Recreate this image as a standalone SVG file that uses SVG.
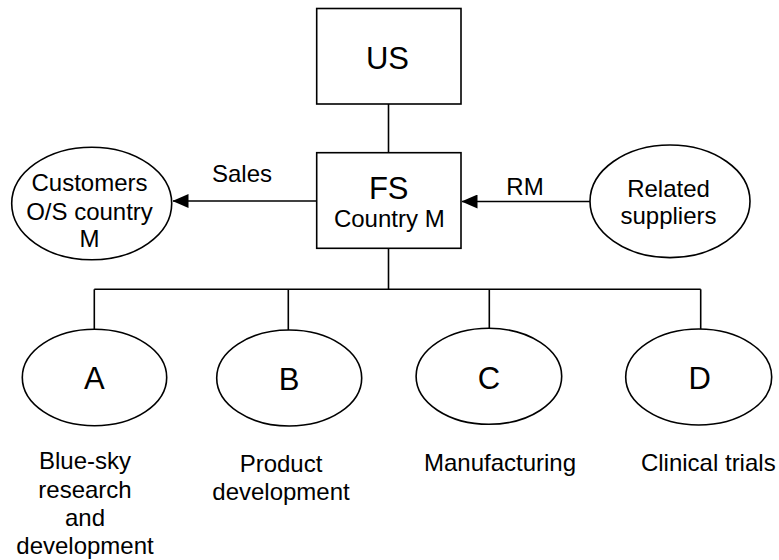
<svg xmlns="http://www.w3.org/2000/svg" width="779" height="560" viewBox="0 0 779 560">
<style>
  .shape { fill: #ffffff; stroke: #000000; stroke-width: 1.6; }
  .line { fill: none; stroke: #000000; stroke-width: 1.6; }
  text { font-family: "Liberation Sans", Arial, sans-serif; fill: #000000; text-anchor: middle; }
  .big { font-size: 31px; }
  .mid { font-size: 24px; }
</style>
<defs>
  <marker id="arrow" markerUnits="userSpaceOnUse" markerWidth="16" markerHeight="14" refX="15.5" refY="7" orient="auto">
    <polygon points="0,0 16,7 0,14" fill="#000000"/>
  </marker>
</defs>
<rect width="779" height="560" fill="#ffffff"/>
<g id="connectors">
  <line class="line" x1="388.5" y1="104" x2="388.5" y2="152.5"/>
  <line class="line" x1="316.5" y1="201" x2="173" y2="201" marker-end="url(#arrow)"/>
  <line class="line" x1="590" y1="201.5" x2="462" y2="201.5" marker-end="url(#arrow)"/>
  <line class="line" x1="388.5" y1="248.5" x2="388.5" y2="289.3"/>
  <line class="line" x1="94.3" y1="289.3" x2="700.7" y2="289.3"/>
  <line class="line" x1="94.3" y1="289.3" x2="94.3" y2="330"/>
  <line class="line" x1="288.3" y1="289.3" x2="288.3" y2="330"/>
  <line class="line" x1="489.3" y1="289.3" x2="489.3" y2="330"/>
  <line class="line" x1="700.7" y1="289.3" x2="700.7" y2="330"/>
  <text class="mid" x="242" y="182">Sales</text>
  <text class="mid" x="525" y="195">RM</text>
</g>
<g id="node-us">
  <rect class="shape" x="316.7" y="8.5" width="144.3" height="95.5"/>
  <text class="big" x="387.5" y="69.3">US</text>
</g>
<g id="node-fs">
  <rect class="shape" x="316.7" y="152.7" width="144.3" height="95.6"/>
  <text class="big" x="388.7" y="199">FS</text>
  <text class="mid" x="389.3" y="227.3">Country M</text>
</g>
<g id="node-customers">
  <ellipse class="shape" cx="91.7" cy="203.5" rx="80" ry="56.3"/>
  <text class="mid" x="89.5" y="190.7">Customers</text>
  <text class="mid" x="89.5" y="219.5">O/S country</text>
  <text class="mid" x="89.5" y="247">M</text>
</g>
<g id="node-suppliers">
  <ellipse class="shape" cx="670" cy="201.3" rx="80" ry="56.3"/>
  <text class="mid" x="668.5" y="196.7">Related</text>
  <text class="mid" x="668.5" y="224.3">suppliers</text>
</g>
<g id="node-a">
  <ellipse class="shape" cx="94.5" cy="377.5" rx="72.2" ry="48.2"/>
  <text class="big" x="94.3" y="389.3">A</text>
  <text class="mid" x="85" y="469.3">Blue-sky</text>
  <text class="mid" x="85" y="497.7">research</text>
  <text class="mid" x="85" y="526">and</text>
  <text class="mid" x="85" y="554.3">development</text>
</g>
<g id="node-b">
  <ellipse class="shape" cx="289.2" cy="378" rx="72.5" ry="48"/>
  <text class="big" x="289" y="390">B</text>
  <text class="mid" x="281" y="472.3">Product</text>
  <text class="mid" x="281" y="500">development</text>
</g>
<g id="node-c">
  <ellipse class="shape" cx="488.9" cy="376.3" rx="72.8" ry="48"/>
  <text class="big" x="489" y="389.3">C</text>
  <text class="mid" x="500" y="471">Manufacturing</text>
</g>
<g id="node-d">
  <ellipse class="shape" cx="698.7" cy="377" rx="73" ry="48"/>
  <text class="big" x="699.7" y="389">D</text>
  <text class="mid" x="708.3" y="471">Clinical trials</text>
</g>
</svg>
